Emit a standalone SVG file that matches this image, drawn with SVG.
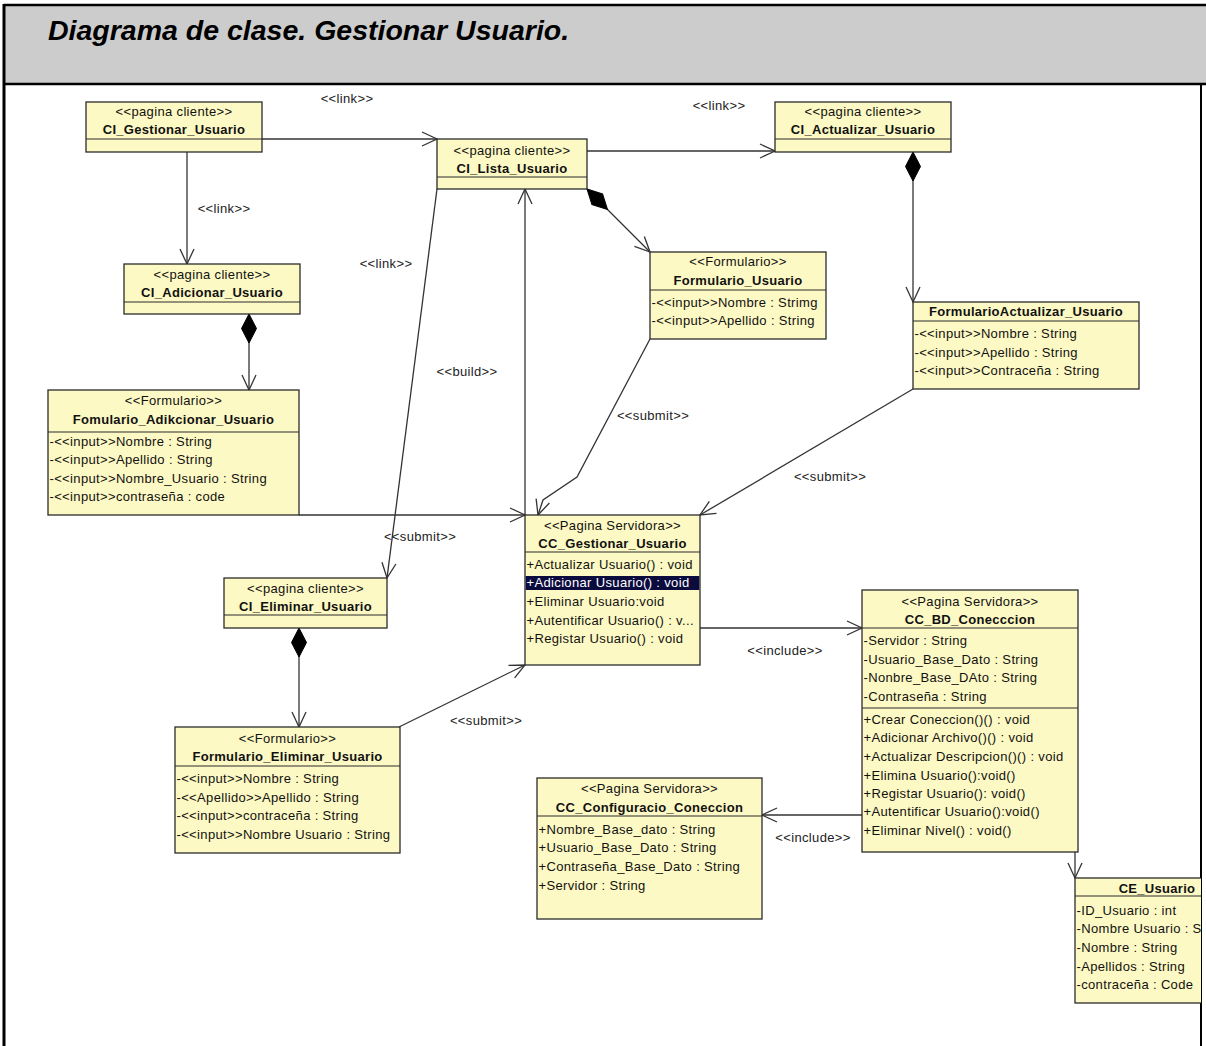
<svg xmlns="http://www.w3.org/2000/svg" width="1206" height="1046" viewBox="0 0 1206 1046">
  <style>
    .box { fill: #fdf9c4; stroke: #2b2b2b; stroke-width: 1.3; }
    .div { stroke: #2b2b2b; stroke-width: 1.2; }
    .t { font-family: "Liberation Sans", Arial, sans-serif; font-size: 13px; letter-spacing: 0.35px; fill: #111; }
    .t.sel { fill: #fff; }
    .st { text-anchor: middle; }
    .nm { text-anchor: middle; font-weight: bold; letter-spacing: 0.3px; }
    .lbl { font-family: "Liberation Sans", Arial, sans-serif; font-size: 13px; letter-spacing: 0.35px; fill: #222; text-anchor: middle; }
    .edge { fill: none; stroke: #333; stroke-width: 1.3; }
    .arr { marker-end: url(#open); }
    .comp { marker-start: url(#diamond); marker-end: url(#open); }
  </style>
  <defs>
    <marker id="open" markerUnits="userSpaceOnUse" markerWidth="24" markerHeight="24" viewBox="-18 -12 24 24" refX="0" refY="0" orient="auto">
      <path d="M-15,-7 L0,0 L-15,7" fill="none" stroke="#333" stroke-width="1.3"/>
    </marker>
    <marker id="diamond" markerUnits="userSpaceOnUse" markerWidth="36" markerHeight="24" viewBox="-2 -12 36 24" refX="0" refY="0" orient="auto">
      <path d="M0,0 L14.5,-7.5 L29,0 L14.5,7.5 Z" fill="#000" stroke="#000" stroke-width="1"/>
    </marker>
    <clipPath id="frameClip">
      <rect x="0" y="84" width="1201" height="962"/>
    </clipPath>
  </defs>

  <!-- page frame and title band -->
  <rect x="0" y="0" width="1206" height="1046" fill="#fff"/>
  <rect x="4" y="5" width="1204" height="79" fill="#cccccc"/>
  <line x1="4" y1="5" x2="1206" y2="5" stroke="#000" stroke-width="2.5"/>
  <line x1="4" y1="84" x2="1206" y2="84" stroke="#000" stroke-width="2.5"/>
  <line x1="4" y1="4" x2="4" y2="1046" stroke="#000" stroke-width="3"/>
  <line x1="1201" y1="84" x2="1201" y2="1046" stroke="#000" stroke-width="2"/>
  <text x="48" y="40" font-family="Liberation Sans, Arial, sans-serif" font-size="28.5" font-weight="bold" font-style="italic" fill="#000">Diagrama de clase. Gestionar Usuario.</text>

  <!-- connectors -->
  <g id="connectors">
    <line class="edge arr" x1="262" y1="139" x2="437" y2="139"/>
    <line class="edge arr" x1="187" y1="152" x2="187" y2="264"/>
    <line class="edge arr" x1="587" y1="151" x2="775" y2="151"/>
    <line class="edge arr" x1="437" y1="189" x2="387" y2="578"/>
    <line class="edge comp" x1="587" y1="189" x2="650" y2="252"/>
    <line class="edge comp" x1="913" y1="152" x2="913" y2="302"/>
    <line class="edge comp" x1="249" y1="314" x2="249" y2="390"/>
    <line class="edge comp" x1="299" y1="628" x2="299" y2="727"/>
    <line class="edge arr" x1="525" y1="515" x2="525" y2="189"/>
    <line class="edge arr" x1="299" y1="515" x2="525" y2="515"/>
    <polyline class="edge arr" points="650,339 577,477 543,500 538,515"/>
    <line class="edge arr" x1="913" y1="389" x2="700" y2="515"/>
    <line class="edge arr" x1="399" y1="727" x2="525" y2="665"/>
    <line class="edge arr" x1="700" y1="628" x2="862" y2="628"/>
    <line class="edge arr" x1="862" y1="815" x2="762" y2="815"/>
    <line class="edge arr" x1="1075" y1="852" x2="1075" y2="878"/>

    <text class="lbl" x="347" y="103">&lt;&lt;link&gt;&gt;</text>
    <text class="lbl" x="224" y="213">&lt;&lt;link&gt;&gt;</text>
    <text class="lbl" x="719" y="110">&lt;&lt;link&gt;&gt;</text>
    <text class="lbl" x="386" y="268">&lt;&lt;link&gt;&gt;</text>
    <text class="lbl" x="467" y="376">&lt;&lt;build&gt;&gt;</text>
    <text class="lbl" x="420" y="541">&lt;&lt;submit&gt;&gt;</text>
    <text class="lbl" x="653" y="420">&lt;&lt;submit&gt;&gt;</text>
    <text class="lbl" x="830" y="481">&lt;&lt;submit&gt;&gt;</text>
    <text class="lbl" x="486" y="725">&lt;&lt;submit&gt;&gt;</text>
    <text class="lbl" x="785" y="655">&lt;&lt;include&gt;&gt;</text>
    <text class="lbl" x="813" y="842">&lt;&lt;include&gt;&gt;</text>
  </g>

  <!-- class nodes -->
  <g id="CI_Gestionar_Usuario">
    <rect class="box" x="86" y="102" width="176" height="50"/>
    <line class="div" x1="86" y1="139" x2="262" y2="139"/>
    <text class="t st" x="174" y="116">&lt;&lt;pagina cliente&gt;&gt;</text>
    <text class="t nm" x="174" y="134">CI_Gestionar_Usuario</text>
  </g>

  <g id="CI_Lista_Usuario">
    <rect class="box" x="437" y="139" width="150" height="50"/>
    <line class="div" x1="437" y1="177" x2="587" y2="177"/>
    <text class="t st" x="512" y="154.5">&lt;&lt;pagina cliente&gt;&gt;</text>
    <text class="t nm" x="512" y="173">CI_Lista_Usuario</text>
  </g>

  <g id="CI_Actualizar_Usuario">
    <rect class="box" x="775" y="102" width="176" height="50"/>
    <line class="div" x1="775" y1="139" x2="951" y2="139"/>
    <text class="t st" x="863" y="116">&lt;&lt;pagina cliente&gt;&gt;</text>
    <text class="t nm" x="863" y="134">CI_Actualizar_Usuario</text>
  </g>

  <g id="CI_Adicionar_Usuario">
    <rect class="box" x="124" y="264" width="176" height="50"/>
    <line class="div" x1="124" y1="302" x2="300" y2="302"/>
    <text class="t st" x="212" y="278.5">&lt;&lt;pagina cliente&gt;&gt;</text>
    <text class="t nm" x="212" y="297">CI_Adicionar_Usuario</text>
  </g>

  <g id="Formulario_Usuario">
    <rect class="box" x="650" y="252" width="176" height="87"/>
    <line class="div" x1="650" y1="290" x2="826" y2="290"/>
    <text class="t st" x="738" y="266">&lt;&lt;Formulario&gt;&gt;</text>
    <text class="t nm" x="738" y="285">Formulario_Usuario</text>
    <text class="t" x="651.5" y="306.5">-&lt;&lt;input&gt;&gt;Nombre : Strimg</text>
    <text class="t" x="651.5" y="325">-&lt;&lt;input&gt;&gt;Apellido : String</text>
  </g>

  <g id="FormularioActualizar_Usuario">
    <rect class="box" x="913" y="302" width="226" height="87"/>
    <line class="div" x1="913" y1="321" x2="1139" y2="321"/>
    <text class="t nm" x="1026" y="316">FormularioActualizar_Usuario</text>
    <text class="t" x="914.5" y="338">-&lt;&lt;input&gt;&gt;Nombre : String</text>
    <text class="t" x="914.5" y="356.5">-&lt;&lt;input&gt;&gt;Apellido : String</text>
    <text class="t" x="914.5" y="375">-&lt;&lt;input&gt;&gt;Contraceña : String</text>
  </g>

  <g id="Fomulario_Adikcionar_Usuario">
    <rect class="box" x="48" y="390" width="251" height="125"/>
    <line class="div" x1="48" y1="432" x2="299" y2="432"/>
    <text class="t st" x="173.5" y="404.5">&lt;&lt;Formulario&gt;&gt;</text>
    <text class="t nm" x="173.5" y="423.5">Fomulario_Adikcionar_Usuario</text>
    <text class="t" x="49.5" y="445.5">-&lt;&lt;input&gt;&gt;Nombre : String</text>
    <text class="t" x="49.5" y="464">-&lt;&lt;input&gt;&gt;Apellido : String</text>
    <text class="t" x="49.5" y="482.5">-&lt;&lt;input&gt;&gt;Nombre_Usuario : String</text>
    <text class="t" x="49.5" y="501">-&lt;&lt;input&gt;&gt;contraseña : code</text>
  </g>

  <g id="CC_Gestionar_Usuario">
    <rect class="box" x="525" y="515" width="175" height="150"/>
    <line class="div" x1="525" y1="552" x2="700" y2="552"/>
    <rect x="525.7" y="576" width="173.6" height="14" fill="#0b0b3e"/>
    <text class="t st" x="612.5" y="529.5">&lt;&lt;Pagina Servidora&gt;&gt;</text>
    <text class="t nm" x="612.5" y="548">CC_Gestionar_Usuario</text>
    <text class="t" x="526.5" y="568.5">+Actualizar Usuario() : void</text>
    <text class="t sel" x="526.5" y="587">+Adicionar Usuario() : void</text>
    <text class="t" x="526.5" y="606">+Eliminar Usuario:void</text>
    <text class="t" x="526.5" y="624.5">+Autentificar Usuario() : v...</text>
    <text class="t" x="526.5" y="643">+Registar Usuario() : void</text>
  </g>

  <g id="CI_Eliminar_Usuario">
    <rect class="box" x="224" y="578" width="163" height="50"/>
    <line class="div" x1="224" y1="615" x2="387" y2="615"/>
    <text class="t st" x="305.5" y="593">&lt;&lt;pagina cliente&gt;&gt;</text>
    <text class="t nm" x="305.5" y="611">CI_Eliminar_Usuario</text>
  </g>

  <g id="Formulario_Eliminar_Usuario">
    <rect class="box" x="175" y="727" width="225" height="126"/>
    <line class="div" x1="175" y1="766" x2="400" y2="766"/>
    <text class="t st" x="287.5" y="742.5">&lt;&lt;Formulario&gt;&gt;</text>
    <text class="t nm" x="287.5" y="761">Formulario_Eliminar_Usuario</text>
    <text class="t" x="176.5" y="782.5">-&lt;&lt;input&gt;&gt;Nombre : String</text>
    <text class="t" x="176.5" y="801.5">-&lt;&lt;Apellido&gt;&gt;Apellido : String</text>
    <text class="t" x="176.5" y="820">-&lt;&lt;input&gt;&gt;contraceña : String</text>
    <text class="t" x="176.5" y="838.5">-&lt;&lt;input&gt;&gt;Nombre Usuario : String</text>
  </g>

  <g id="CC_BD_Coneccion">
    <rect class="box" x="862" y="590" width="216" height="262"/>
    <line class="div" x1="862" y1="628" x2="1078" y2="628"/>
    <line class="div" x1="862" y1="708" x2="1078" y2="708"/>
    <text class="t st" x="970" y="605.5">&lt;&lt;Pagina Servidora&gt;&gt;</text>
    <text class="t nm" x="970" y="624">CC_BD_Conecccion</text>
    <text class="t" x="863.5" y="645">-Servidor : String</text>
    <text class="t" x="863.5" y="663.5">-Usuario_Base_Dato : String</text>
    <text class="t" x="863.5" y="682">-Nonbre_Base_DAto : String</text>
    <text class="t" x="863.5" y="701">-Contraseña : String</text>
    <text class="t" x="863.5" y="723.5">+Crear Coneccion()() : void</text>
    <text class="t" x="863.5" y="742">+Adicionar Archivo()() : void</text>
    <text class="t" x="863.5" y="761">+Actualizar Descripcion()() : void</text>
    <text class="t" x="863.5" y="779.5">+Elimina Usuario():void()</text>
    <text class="t" x="863.5" y="798">+Registar Usuario(): void()</text>
    <text class="t" x="863.5" y="816">+Autentificar Usuario():void()</text>
    <text class="t" x="863.5" y="834.5">+Eliminar Nivel() : void()</text>
  </g>

  <g id="CC_Configuracio_Coneccion">
    <rect class="box" x="537" y="778" width="225" height="141"/>
    <line class="div" x1="537" y1="816" x2="762" y2="816"/>
    <text class="t st" x="649.5" y="793">&lt;&lt;Pagina Servidora&gt;&gt;</text>
    <text class="t nm" x="649.5" y="812">CC_Configuracio_Coneccion</text>
    <text class="t" x="538.5" y="833.5">+Nombre_Base_dato : String</text>
    <text class="t" x="538.5" y="852">+Usuario_Base_Dato : String</text>
    <text class="t" x="538.5" y="871">+Contraseña_Base_Dato : String</text>
    <text class="t" x="538.5" y="889.5">+Servidor : String</text>
  </g>

  <g id="CE_Usuario" clip-path="url(#frameClip)">
    <rect class="box" x="1075" y="878" width="164" height="125"/>
    <line class="div" x1="1075" y1="896" x2="1239" y2="896"/>
    <text class="t nm" x="1157" y="892.5">CE_Usuario</text>
    <text class="t" x="1076.5" y="914.5">-ID_Usuario : int</text>
    <text class="t" x="1076.5" y="933">-Nombre Usuario : String</text>
    <text class="t" x="1076.5" y="952">-Nombre : String</text>
    <text class="t" x="1076.5" y="970.5">-Apellidos : String</text>
    <text class="t" x="1076.5" y="989">-contraceña : Code</text>
  </g>
</svg>
